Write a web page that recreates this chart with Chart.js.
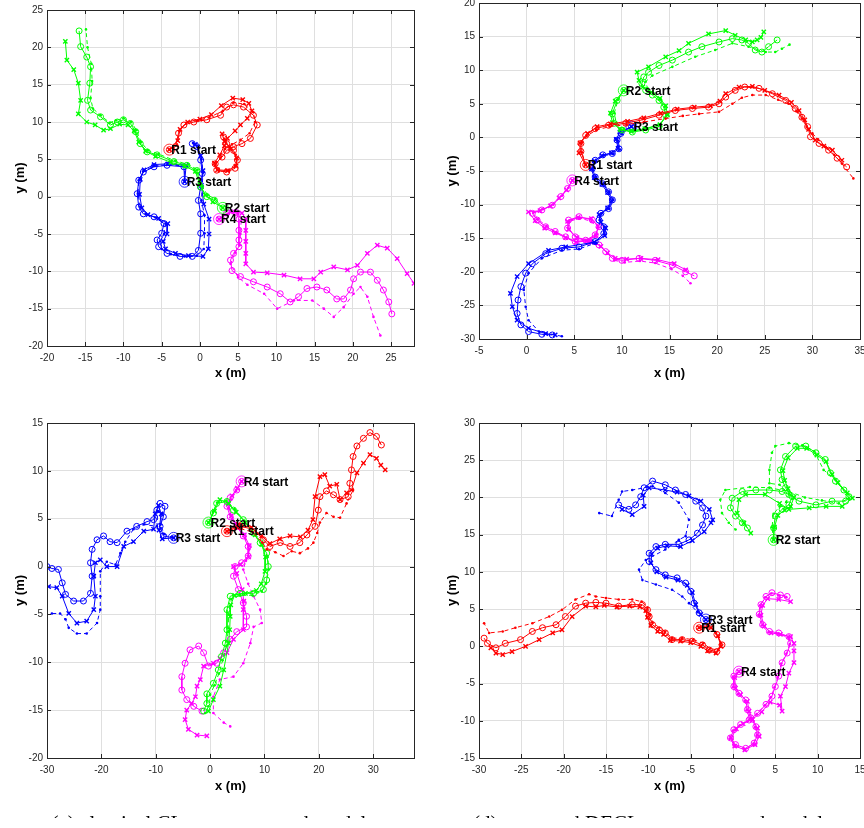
<!DOCTYPE html>
<html>
<head>
<meta charset="utf-8">
<script src="https://cdn.jsdelivr.net/npm/chart.js@4.4.0/dist/chart.umd.min.js"></script>
<style>
html, body { margin: 0; padding: 0; background: #fff; width: 864px; height: 828px; overflow: hidden; position: relative; }
canvas { position: absolute; }
#caps { position: absolute; left: 0; top: 800px; width: 864px; height: 18px; overflow: hidden; }
.cap { position: absolute; top: 13px; font-family: 'Liberation Serif', 'DejaVu Serif', serif; font-size: 21px; line-height: 21px; white-space: nowrap; color: #000; transform: translateX(-50%); }
</style>
</head>
<body>
<canvas id="pa" width="426" height="402" style="left:0px;top:-2px"></canvas>
<canvas id="pb" width="440" height="402" style="left:432px;top:-9px"></canvas>
<canvas id="pc" width="426" height="401" style="left:0px;top:411px"></canvas>
<canvas id="pd" width="440" height="401" style="left:432px;top:411px"></canvas>
<div id="caps">
  <span class="cap" style="left:223px">(c) classical CL, two-step random delays</span>
  <span class="cap" style="left:662px">(d) proposed DECL, two-step random delays</span>
</div>
<script>
// panel (a) - R1..R4, o = circle trace, x = cross trace, d = dashed trace
var aR1o = [[-4,6.3],[-3.2,6.7],[-2.8,8.5],[-2.1,9.6],[-0.8,10],[0.9,10.3],[2.7,10.9],[3.5,12],[4.4,12.3],[5.7,12],[7,10.9],[7.5,9.6],[6.6,7.8],[5.5,7.1],[4.4,6.7],[3.5,6.2],[2.9,5.3],[2,4.4],[2.2,3.55],[3.5,3.3],[4.6,3.8],[4.9,4.9],[4.4,6.2],[3.5,7.1],[3.1,8]];
var aR1x = [[-4,6.3],[-2.9,7.5],[-2.6,9],[-1.6,10],[0,10.4],[1.5,11],[2.8,12.2],[4.3,13.2],[5.6,13],[6.4,12.5],[6.8,11.5],[6.2,10.5],[5.3,9.6],[4.6,8.8],[3.6,7.8],[3.2,6.8],[2.6,5.6],[1.9,4.5],[2.3,3.6],[3.6,3.5],[4.7,4.1],[4.8,5.2],[4,6.4],[3.2,7.4],[2.9,8.4]];
var aR1d = [[-4,6.3],[-3,6.9],[-2.7,8.8],[-1.8,9.9],[-0.3,10.2],[1.2,10.6],[3,11.5],[4.4,12.6],[5.8,12.4],[7,11.3],[7.2,10],[6.5,8.5],[5.3,7.6],[4.2,7],[3.3,6.4],[2.7,5.2],[2,4.2],[2.5,3.4],[3.8,3.4],[4.8,4.3],[4.7,5.6],[3.9,6.7],[3.2,7.7]];
var aR2o = [[3,-1.5],[1.9,-0.5],[0.9,0],[0.1,1.3],[-0.4,3.5],[-1.7,4.2],[-3.4,4.7],[-5.6,5.6],[-6.9,6],[-7.8,7.1],[-8.4,8.7],[-9.1,9.8],[-10,10.3],[-10.8,10],[-11.7,9.6],[-13,10.7],[-14.3,11.6],[-14.7,12.9],[-14.4,15.2],[-14.3,17.4],[-14.8,18.7],[-15.6,20.1],[-15.8,22.2]];
var aR2x = [[3,-1.5],[1.7,-0.7],[0.7,0.2],[0,1.6],[-0.6,3.4],[-2,4.1],[-3.8,4.6],[-5.8,5.4],[-7.1,6.1],[-8,7.3],[-8.6,8.8],[-9.4,9.6],[-10.5,9.7],[-11.7,9.1],[-12.6,8.9],[-13.7,9.6],[-14.8,10],[-15.9,11.1],[-15.6,12.9],[-15.9,15.2],[-16.5,17],[-17.4,18.3],[-17.6,20.8]];
var aR2d = [[3,-1.5],[2,-0.3],[1,0.2],[0.2,1.5],[-0.3,3.6],[-1.5,4.3],[-3.2,4.8],[-5.4,5.7],[-6.8,6.2],[-7.7,7.3],[-8.3,8.9],[-9,10],[-10,10.5],[-11,10.2],[-11.8,9.9],[-13,10.9],[-14,11.8],[-14.3,13.2],[-14.1,15.5],[-14.2,17.8],[-14.7,20],[-14.9,22.4]];
var aR3o = [[-2,2],[-2.1,4],[-4.3,4.2],[-6,4],[-7.4,3.3],[-8,2.2],[-8.2,0.4],[-8,-1.4],[-7.4,-2.3],[-6,-2.7],[-4.7,-3.6],[-5,-4.9],[-5.6,-5.8],[-5.4,-6.7],[-4.3,-7.6],[-2.6,-8],[-1,-8],[-0.2,-7.2],[0.1,-4.9],[0.1,-2.3],[-0.2,-0.5],[0.1,1.3],[0.3,3.1],[0.1,4.9],[-0.4,6.7],[-1,7.1]];
var aR3x = [[-2,2],[-1.8,4.2],[-4.2,4.4],[-6,4.3],[-7.3,3.6],[-7.8,2.3],[-7.9,0.3],[-7.6,-1.5],[-6.8,-2.4],[-5.4,-2.9],[-4.2,-3.6],[-4.3,-5],[-4.8,-6],[-4.5,-7],[-3.2,-7.6],[-1.5,-7.9],[0.4,-8],[1.1,-7],[1.2,-5],[1.2,-3],[0.5,-1],[0.2,1.5],[0.4,3.5],[0.1,5.5],[-0.6,7]];
var aR3d = [[-2,2],[-2,4.1],[-4.2,4.3],[-6,4.1],[-7.4,3.4],[-8,2.2],[-8.1,0.4],[-7.8,-1.4],[-7.1,-2.3],[-5.8,-2.8],[-4.5,-3.6],[-4.7,-5],[-5.2,-6],[-5,-7],[-3.8,-7.7],[-2,-8],[-0.4,-7.9],[0.5,-7],[0.6,-4.9],[0.6,-2.5],[0.2,-0.5],[0.3,1.4],[0.4,3.2],[0.2,5],[-0.3,6.8],[-0.9,7.2]];
var aR4o = [[2.5,-3],[3.5,-2.2],[4.7,-2.1],[5.1,-3],[5.1,-4.5],[5.1,-5.8],[5.1,-6.7],[4.4,-7.6],[4,-8.5],[4.2,-9.9],[5.3,-10.7],[7,-11.4],[8.8,-12.1],[10.5,-13],[11.8,-14.1],[12.9,-13.4],[14,-12.3],[15.3,-12.1],[16.6,-12.5],[17.9,-13.7],[18.8,-13.7],[19.7,-12.5],[20.1,-11],[21,-10.1],[22.3,-10.1],[23.2,-11.2],[24,-12.5],[24.7,-14.1],[25.1,-15.7]];
var aR4x = [[2.5,-3],[4,-2],[5.5,-2.2],[6,-3],[6,-4.5],[6,-6],[6,-7.6],[6,-9],[7,-10.1],[8.8,-10.2],[11,-10.5],[13.1,-11],[14.9,-11],[15.8,-10.1],[17.5,-9.4],[19.3,-9.8],[20.6,-9.2],[21.9,-7.6],[23.2,-6.5],[24.5,-6.9],[25.8,-8.3],[27.1,-10.3],[28,-11.6]];
var aR4d = [[2.5,-3],[3.8,-2.3],[5,-2.3],[5.4,-3.2],[5.3,-5],[5.2,-6.5],[4.6,-7.5],[4,-9],[5,-10.8],[6.2,-11.8],[8.4,-13],[10.1,-15],[12.3,-13.9],[14.7,-13.9],[16.2,-15],[17.5,-16.1],[18.8,-14.8],[20.1,-13],[21,-12.1],[21.9,-13.4],[22.7,-16.1],[23.6,-18.6]];

// panel (b)
var bR1o = [[6.2,-4.1],[5.7,-2.1],[5.7,-0.9],[6.2,0.3],[7.2,1.3],[8.6,1.8],[10.4,2.1],[12.1,2.6],[13.9,3.3],[15.6,4],[17.4,4.3],[19.1,4.5],[20.2,5],[20.9,6],[21.9,7],[22.9,7.5],[24.4,7.3],[25.8,6.5],[27.2,5.5],[28.2,4.3],[28.9,3],[29.5,1.6],[29.8,0.1],[30.7,-0.9],[31.7,-1.9],[32.6,-3.1],[33.6,-4.4]];
var bR1x = [[6.2,-4.1],[5.5,-2.3],[5.6,-0.8],[6.4,0.6],[7.4,1.6],[8.8,2],[10.6,2.4],[12.3,2.9],[14.1,3.6],[15.8,4.2],[17.6,4.5],[19.3,4.7],[20.3,5.4],[20.9,6.5],[22.3,7.5],[23.7,7.6],[25,7],[26.5,6.3],[27.8,5.2],[28.6,4],[29.2,2.6],[29.6,1.2],[30.3,-0.4],[31.2,-1.3],[32.1,-1.9],[33.1,-3.4]];
var bR1d = [[6.2,-4.1],[5.8,-2.2],[5.8,-0.8],[6.3,0.2],[7.3,1.1],[8.7,1.6],[10.5,1.9],[12.3,2.3],[14.6,2.8],[16.4,3.2],[18.1,3.5],[20.2,3.8],[21.6,5],[22.6,5.9],[23.7,6.3],[25.1,6.3],[26.4,5.6],[27.5,5],[28.3,3.9],[28.9,2.8],[29.4,1.6],[30,0.6],[30.6,-0.3],[31.4,-1.4],[32.3,-2.6],[33.1,-3.9],[34.3,-6.1]];
var bR2o = [[10.2,7],[9.5,5.5],[9,3.5],[9.2,2.1],[10,1.1],[11.1,0.8],[12.5,1.1],[13.9,1.6],[14.6,3.3],[14.4,4.5],[13.9,5.5],[13.2,6.3],[12.5,7],[12.1,8],[12.3,9],[12.8,9.7],[13.9,10.7],[15.3,11.5],[17,12.7],[18.4,13.5],[20.2,14.2],[21.6,14.7],[22.6,14.5],[23.3,14],[24,13],[24.7,12.7],[25.4,13.5],[26.3,14.5]];
var bR2x = [[10.2,7],[9.3,5.4],[8.8,3.6],[9,2.2],[9.8,1.2],[11,0.9],[12.4,1.3],[14,1.9],[14.8,3.4],[14.6,4.7],[14,5.8],[13.1,6.7],[12.2,7.5],[11.8,8.5],[11.6,9.7],[12.8,10.5],[14.6,12],[16,12.9],[17,14],[19.1,15.4],[20.9,15.9],[21.9,15.2],[23,14.5],[23.7,14.2],[24.2,14.5],[24.6,14.9],[24.9,15.7]];
var bR2d = [[10.2,7],[9.6,5.6],[9.2,3.6],[9.4,2.2],[10.2,1.3],[11.2,1],[12.6,1.3],[14,1.9],[14.7,3.3],[14.5,4.6],[14,5.6],[13.3,6.5],[12.7,7.3],[12.5,8.3],[13.2,9.2],[15.3,10.5],[17.7,12],[19.8,13],[21.6,14],[23.3,13.5],[25.1,12.7],[26.1,12.7],[26.8,13.2],[27.6,13.8]];
var bR3o = [[11,1.6],[9.9,0.6],[9.5,-0.4],[9.7,-1.7],[9,-2.4],[8,-2.6],[7.2,-3.4],[6.9,-4.6],[7.2,-5.9],[8,-6.9],[8.6,-8.1],[9,-9.3],[8.6,-10.6],[7.8,-11.3],[7.6,-12.3],[8.1,-13.3],[8.1,-14.3],[7.2,-15.5],[5.5,-16.3],[3.7,-16.5],[2,-17.3],[0.6,-18.8],[-0.1,-20.2],[-0.6,-22.2],[-0.9,-24.2],[-1,-26.2],[-0.6,-27.9],[0.2,-28.9],[1.6,-29.3],[2.7,-29.4]];
var bR3x = [[11,1.6],[9.8,0.8],[9.4,-0.3],[9.6,-1.6],[8.9,-2.3],[7.9,-2.7],[7.1,-3.5],[6.8,-4.7],[7.1,-6],[7.9,-7],[8.5,-8.2],[8.9,-9.4],[8.5,-10.5],[7.6,-11.5],[7.8,-12.6],[8.3,-13.5],[8.2,-14.6],[7.1,-15.6],[4.1,-16.3],[2.3,-16.8],[0.2,-18.8],[-1,-20.7],[-1.7,-23.2],[-1.5,-25.2],[-1,-27.2],[0.2,-28.4],[2,-29.2],[3,-29.4]];
var bR3d = [[11,1.6],[10,0.5],[9.6,-0.5],[9.8,-1.8],[9.1,-2.5],[8.1,-2.7],[7.3,-3.5],[7,-4.6],[7.3,-5.9],[8.1,-6.9],[8.7,-8.1],[9.1,-9.3],[8.7,-10.6],[7.9,-11.3],[7.7,-12.3],[8.2,-13.3],[8.2,-14.5],[7.3,-15.7],[5.5,-16.6],[3.7,-16.8],[1.6,-18],[0.2,-20.2],[-0.3,-22.7],[-0.1,-25.2],[0.2,-27.2],[1.3,-28.9],[3.7,-29.6]];
var bR4o = [[4.8,-6.4],[4.3,-7.6],[3.6,-8.8],[2.7,-10.1],[1.6,-10.8],[0.6,-11.3],[1.1,-12.3],[2,-13.3],[3,-14],[4.1,-14.8],[5.1,-15.5],[6.2,-15.3],[7.2,-14.5],[7.6,-13.3],[6.9,-12.3],[5.5,-11.8],[4.4,-12.3],[4.3,-13.5],[5.1,-14.8],[6.5,-15.5],[7.6,-16],[8.3,-17],[9,-18],[10,-18.3],[11.8,-18],[13.5,-18.3],[15.3,-19],[16.7,-20],[17.6,-20.6]];
var bR4x = [[4.8,-6.4],[4.2,-7.8],[3.4,-9],[2.5,-10.2],[1.4,-10.9],[0.2,-11.1],[0.9,-12.4],[1.9,-13.5],[3,-14.2],[4.1,-14.9],[5.2,-15.6],[6.3,-15.4],[7.3,-14.6],[7.5,-13.2],[6.8,-12.1],[5.4,-11.9],[4.3,-12.5],[4.4,-13.7],[5.3,-14.9],[6.7,-15.4],[7.8,-16.2],[8.5,-17.2],[9.3,-18],[10.5,-18.1],[12,-18],[13.8,-18.2],[15.5,-18.8],[16.7,-19.7]];
var bR4d = [[4.8,-6.4],[4.4,-7.5],[3.7,-8.7],[2.8,-10],[1.7,-10.7],[0.7,-11.2],[1.2,-12.2],[2.1,-13.2],[3.1,-14.1],[4.2,-15],[5.2,-15.6],[6.3,-15.4],[7.2,-14.6],[7.5,-13.4],[6.8,-12.5],[5.6,-12],[4.5,-12.5],[4.4,-13.6],[5.3,-14.9],[6.7,-15.7],[7.8,-16.3],[8.5,-17.3],[9.2,-18.3],[10.3,-18.6],[11.9,-18.4],[13.5,-18.7],[15.2,-19.6],[16.4,-20.6],[17.2,-21.7]];

// panel (c) classical CL
var cR1o = [[3.1,3.7],[5.5,4.2],[8,3.9],[9.8,2.8],[11,2.1],[12.9,2.5],[14.7,2.1],[16.5,2.5],[17.8,3.3],[19.3,4.2],[19.9,5.9],[20.2,7.3],[21.4,7.9],[22.7,7.5],[23.9,7],[25.4,7.3],[25.7,8.7],[26,10.1],[26.3,11.5],[27,12.6],[28.2,13.4],[29.4,14],[30.6,13.6],[31.5,12.7]];
var cR1x = [[3.1,3.7],[5.2,4.4],[7.6,4.1],[9.5,3.2],[11,2.4],[12.8,2.9],[14.7,3.2],[16.6,3.1],[18,3.8],[18.9,4.9],[19.3,7.3],[20.2,9.4],[21.1,9.6],[22,8.4],[23.3,8.6],[23.9,7],[25.1,7.7],[26,8],[27,9.8],[28.2,10.8],[29.4,11.7],[30.6,11.3],[31.4,10.6],[32.2,10.1]];
var cR1d = [[3.1,3.7],[5.4,4],[7.8,3.6],[9.6,2.5],[10.4,1.8],[12,1.5],[13.5,1.1],[15,1.6],[16.5,1.4],[18,1.9],[19,2.5],[19.7,3.5],[20.2,4.6],[21.4,5.6],[22.7,5.2],[23.9,5.1],[25.1,6.6],[26.3,8]];
var cR2o = [[-0.3,4.6],[0.6,5.6],[1.2,6.6],[3.1,6.8],[4.3,5.9],[6.1,4.9],[8,3.5],[9.2,2.5],[10.4,1.4],[10.7,0],[10.4,-1.4],[9.8,-2.4],[8,-2.8],[5.5,-2.8],[3.7,-3.1],[3.1,-4.5],[3.1,-6.6],[2.8,-8],[2.1,-9.4],[1.5,-10.8],[0.6,-12.2],[-0.6,-13.3],[-0.6,-14.3],[-1.2,-15.1]];
var cR2x = [[-0.3,4.6],[0.8,5.8],[1.8,7],[3.4,6.6],[4.8,5.7],[6.5,4.6],[8.3,3.3],[9.5,2.3],[10.2,1],[10.1,-0.5],[9.4,-1.8],[8.5,-2.5],[6.5,-2.8],[4.5,-3],[3.8,-4],[3.7,-5.2],[3.6,-6.6],[3.4,-8],[2.5,-10.8],[1.8,-12.5],[0.6,-13.9],[-0.3,-15.1]];
var cR2d = [[-0.3,4.6],[0.5,5.7],[1.3,6.7],[3,6.9],[4.5,6],[6.3,4.8],[8.2,3.3],[9.5,2.2],[10.6,1],[10.8,-0.3],[10.3,-1.8],[9.5,-2.6],[7.8,-3],[5.5,-3],[3.9,-3.4],[3.4,-5],[3.3,-6.8],[3,-8.3],[2.3,-9.8],[1.6,-11.2],[0.8,-12.4],[0,-13.4],[-0.3,-14.6],[-0.9,-15.3]];
var cR3o = [[-6.7,3],[-8.6,3.2],[-9.2,4.2],[-8.6,5.2],[-8.3,6.3],[-9.2,6.6],[-9.8,5.9],[-10.4,4.9],[-11.6,4.7],[-13.5,4.2],[-15.3,3.7],[-17.1,2.5],[-18.4,2.6],[-19.6,3.2],[-20.8,2.8],[-21.7,1.8],[-22,0.4],[-21.7,-1],[-22,-2.8],[-23.3,-3.6],[-25.1,-3.6],[-26.6,-2.9],[-27.2,-1.7],[-27.9,-0.3],[-29.1,-0.2],[-30,0]];
var cR3x = [[-6.7,3],[-8.8,2.9],[-9.4,3.8],[-9,5.5],[-9.5,6.4],[-10.1,5.5],[-10.4,3.9],[-12.2,3.7],[-14.1,2.6],[-15.9,2.1],[-17.1,0],[-19,0],[-20.2,0.7],[-21.1,0.4],[-21.4,-1],[-21.1,-3.1],[-21.4,-4.5],[-22.7,-5.7],[-24.5,-5.9],[-26,-4.9],[-27.2,-3.1],[-28.2,-2.2],[-29.7,-2.1]];
var cR3d = [[-6.7,3],[-8.5,3.4],[-9.1,4.4],[-8.8,5.6],[-9.6,5.8],[-9.8,4.2],[-12.2,4.4],[-14.1,3.9],[-15.6,2.6],[-16.5,1.4],[-17.4,0.2],[-19,0.5],[-20.2,-0.5],[-20.2,-3.1],[-20.2,-4.5],[-20.8,-5.9],[-22.7,-7],[-24.5,-7],[-26,-6.4],[-26.6,-5.5],[-27.6,-4.9],[-29.1,-4.9]];
var cR4o = [[5.8,8.9],[4.9,8],[3.7,7.2],[3.1,6.3],[3.7,5.2],[4.9,4.2],[6.1,3.2],[7,2.1],[7,1.1],[5.8,0.4],[4.6,0],[4.3,-1],[5.2,-2.4],[6.1,-3.8],[6.7,-5.2],[6.7,-6.3],[4.9,-6.8],[3.7,-7.6],[2.5,-9],[1.2,-10.1],[-0.3,-10.4],[-1.2,-9],[-2.1,-8.3],[-3.7,-8.7],[-4.6,-10.1],[-5.2,-11.5],[-5.2,-12.9],[-4.3,-13.9],[-3,-14.6],[-1.5,-15.1]];
var cR4x = [[5.8,8.9],[5,8.2],[4,7.4],[3.3,6.5],[3.9,5.3],[5,4.3],[6.3,3.3],[7.2,2.2],[7.1,1],[5.6,0.2],[4.3,0],[4.9,-0.7],[5.9,-2.4],[6.2,-3.6],[6.1,-4.5],[6.1,-6.6],[4.3,-7.6],[3.1,-9],[1.8,-9.6],[0.6,-10.1],[-1.2,-10.4],[-1.8,-11.8],[-2.4,-12.5],[-2.7,-13.6],[-3.4,-14.3],[-4.3,-15],[-4.6,-16],[-4,-17],[-2.4,-17.6],[-0.6,-17.7]];
var cR4d = [[5.8,8.9],[4.8,7.9],[3.9,7],[3.4,6.1],[4,5],[5.2,4],[6.4,3],[7.2,1.8],[6.6,0.6],[6.1,-0.3],[7,-1.8],[8,-3.1],[9.2,-4.5],[9.5,-5.9],[8,-6.3],[7.4,-8],[6.1,-10.1],[4.3,-11.5],[1.8,-11.8],[0.6,-13.6],[0.6,-15.3],[2.5,-16.3],[3.7,-16.7]];

// panel (d) proposed DECL
var dR1o = [[-4,2.5],[-2.8,2.7],[-1.9,1.6],[-1.3,0.2],[-1.9,-0.7],[-2.8,-0.5],[-3.6,0.2],[-4.8,0.7],[-6,0.9],[-7.2,0.9],[-8,1.8],[-8.7,2.2],[-9.5,2.9],[-9.9,4],[-10.1,4.9],[-10.7,5.6],[-11.9,5.6],[-13.5,5.4],[-15,5.8],[-16.2,5.9],[-17.4,5.8],[-18.6,5.4],[-19.8,4],[-20.9,2.9],[-22.5,2.5],[-23.7,2],[-25.1,0.9],[-26.9,0.4],[-28,-0.2],[-29,0.4],[-29.4,1.1]];
var dR1x = [[-4,2.5],[-2.6,2.5],[-1.8,1.4],[-1.4,0],[-2,-0.9],[-3,-0.6],[-3.8,0],[-5,0.5],[-6.2,0.7],[-7.4,0.8],[-8.2,1.6],[-8.9,2],[-9.7,2.8],[-10.1,3.9],[-10.3,4.8],[-11,5.3],[-12.2,5.4],[-13.7,5.3],[-15.2,5.5],[-16.2,5.3],[-17.4,5.4],[-19,4],[-20.2,2.2],[-21.3,1.8],[-22.9,0.9],[-24.5,0],[-26.1,-0.7],[-27.2,-1.1],[-28,-0.9],[-28.6,-0.2]];
var dR1d = [[-4,2.5],[-2.9,2.9],[-2,1.8],[-1.4,0.4],[-1.8,-0.5],[-2.7,-0.3],[-3.5,0.4],[-4.7,0.9],[-6,1.1],[-7.2,1.1],[-8,2],[-8.7,2.5],[-9.5,3.2],[-9.8,4.3],[-10.1,5.2],[-10.8,6],[-11.9,6.3],[-13.5,6.3],[-15,6.5],[-16.2,6.7],[-17,7],[-18.6,6.3],[-20.2,4.9],[-21.7,4],[-23.7,3.1],[-25.7,2.5],[-27.2,2],[-28.8,1.8],[-29.4,3.1]];
var dR2o = [[4.8,14.3],[4.8,15.9],[5,17.5],[5.8,18.4],[6.6,19],[7,20.1],[6.2,21.3],[5.8,22.4],[5.6,23.7],[6.2,25.5],[7.4,26.9],[8.6,26.9],[9.8,26],[10.9,25.1],[11.5,23.3],[12.1,22.2],[13.1,21],[13.7,20.1],[13.3,19.5],[11.7,19.5],[9.8,19],[7.8,19.5],[6.6,20.4],[5.8,20.8],[4.3,21],[2.7,21],[1.1,20.8],[-0.1,19.9],[-0.3,18.6],[0.3,17.5],[1.1,16.6],[1.7,15.9]];
var dR2x = [[4.8,14.3],[4.9,16],[5.3,17.6],[6.1,18.3],[6.8,18.8],[7.2,20],[6.5,21.2],[6.1,22.3],[5.9,23.6],[6.5,25.3],[7.6,26.6],[8.7,26.6],[9.9,25.7],[11,24.8],[11.7,23.1],[12.4,22],[13.5,20.6],[14.1,19.9],[12.9,18.8],[11,18.8],[9,18.6],[6.6,18.4],[5.5,19.2],[3.8,20.4],[1.5,20.4],[0.7,19.7],[0.5,17.9],[1.3,16.6],[2.1,15.2]];
var dR2d = [[4.8,14.3],[4.6,16],[4.8,17.8],[5.5,18.8],[6.3,19.4],[6.6,20.5],[5.5,21.7],[4.3,21.9],[4.3,23.7],[4.6,26],[5,26.9],[6.6,27.3],[8.2,27],[9.6,26.2],[10.7,23.7],[12.1,22.4],[13.7,19.9],[12.5,19.2],[10.5,19.6],[8.5,20],[6.6,20.8],[4.3,21.3],[2,21.4],[-0.9,21],[-1.5,19.7],[-1.3,17.9],[-0.5,16.6],[0.3,15.7]];
var dR3o = [[-3.2,3.6],[-4,4.5],[-4.6,5.8],[-5,7.4],[-5.6,8.5],[-6.6,9.2],[-8,9.6],[-9.1,10.3],[-9.9,11.4],[-9.9,12.5],[-9.1,13.4],[-8,13.7],[-6.4,13.7],[-5.2,14.3],[-4.2,15.2],[-3.6,16.3],[-3.2,17.5],[-3.6,18.6],[-4.4,19.5],[-5.6,20.4],[-6.8,21],[-8,21.7],[-9.5,22.2],[-10.5,21.3],[-10.9,20.1],[-11.5,19],[-12.3,18.4],[-13.5,19]];
var dR3x = [[-3.2,3.6],[-3.8,4.3],[-4.4,5.6],[-4.8,7.2],[-5.4,8.2],[-6.5,8.9],[-7.9,9.3],[-9,10],[-9.7,11.2],[-9.6,12.4],[-8.9,13.2],[-7.8,13.5],[-6.2,13.4],[-4.8,14.2],[-3.4,15.4],[-2.6,16.6],[-2.4,17],[-2.8,18.4],[-3.8,19.5],[-5.2,20.2],[-6.6,20.7],[-8,21],[-9.9,21.3],[-10.6,20.3],[-10.5,18.8],[-11.9,17.7],[-13.1,18.4]];
var dR3d = [[-3.2,3.6],[-4.2,4.6],[-5.2,5.8],[-6,6.7],[-7.2,7.6],[-9.1,8.3],[-10.7,8.9],[-11.1,10.3],[-10.3,11.6],[-8,13],[-6.4,14.3],[-5.6,14.8],[-5.2,17],[-6.4,19.3],[-8,20.6],[-9.5,21.5],[-11.9,21],[-13.1,20.8],[-13.5,19.7],[-14.3,17.5],[-15.8,17.9]];
var dR4o = [[0.7,-3.4],[0.1,-4],[0.1,-5.4],[0.7,-6.3],[1.5,-7.2],[1.7,-8.5],[2.1,-9.6],[2.7,-10.8],[2.9,-11.9],[2.5,-13],[1.5,-13.7],[0.3,-13.2],[-0.3,-12.3],[0.1,-11.2],[0.9,-10.5],[1.9,-9.9],[2.9,-9],[3.9,-7.8],[4.6,-6.7],[5,-5.4],[5.4,-4],[5.8,-2.2],[6.4,-0.9],[6.8,0.4],[6.6,1.3],[5.4,1.8],[4.3,2],[3.5,2.9],[3.1,4.3],[3.3,5.6],[3.9,6.7],[4.6,7.2],[5.6,6.9],[6.4,6.7]];
var dR4x = [[0.7,-3.4],[0.2,-4.2],[0.3,-5.6],[0.9,-6.5],[1.7,-7.4],[1.9,-8.7],[2.3,-9.8],[2.9,-11],[3.1,-12.1],[2.6,-13.2],[1.4,-13.9],[0.2,-13.4],[-0.2,-12.3],[0.4,-11.1],[1.2,-10.4],[2.3,-9.8],[3.4,-8.8],[4.4,-7.5],[5.5,-7.9],[5.8,-8.7],[5.6,-6.7],[6.2,-5.4],[6.6,-3.6],[7.2,-2.2],[7.2,-0.6],[7.2,0.4],[6.8,1.3],[5.6,1.6],[4.5,1.8],[3.7,2.7],[3.3,4.2],[3.5,5.5],[4.1,6.4],[5.4,6.3],[6.8,6]];
var dR4d = [[0.7,-3.4],[0,-4.1],[0,-5.5],[0.6,-6.4],[1.4,-7.3],[1.6,-8.6],[2,-9.7],[2.6,-10.9],[2.8,-12],[2.4,-13.1],[1.4,-13.8],[0.2,-13.3],[-0.4,-12.4],[0,-11.3],[0.8,-10.6],[1.8,-10],[2.8,-9.1],[3.8,-7.9],[4.5,-6.8],[4.9,-5.5],[5.3,-4.1],[5.7,-2.3],[6.3,-1],[6.7,0.3],[6.5,1.2],[5.3,1.7],[4.2,1.9],[3.4,2.8],[3,4.2],[3.2,5.5],[3.8,6.6],[4.5,7.1],[5.5,6.8],[6.3,6.6]];

var robotNames = ['R1', 'R2', 'R3', 'R4'];
var robotColors = ['#ff0000', '#00ff00', '#0000ff', '#ff00ff'];

var FONT = "'Liberation Sans', Arial, sans-serif";

function pts(arr) {
    return arr.map(function(p) { return { x: p[0], y: p[1] }; });
}

// three estimates per robot plus the bigger start circle
function robotSets(color, circ, cross, dash) {
    return [
        { data: pts(dash), showLine: true, borderColor: color, borderWidth: 1, borderDash: [4, 3],
          pointStyle: 'circle', pointRadius: 1.3, pointBorderWidth: 0, pointBackgroundColor: color },
        { data: pts(cross), showLine: true, borderColor: color, borderWidth: 1,
          pointStyle: 'crossRot', pointRadius: 3, pointBorderWidth: 1.4, pointBorderColor: color },
        { data: pts(circ), showLine: true, borderColor: color, borderWidth: 1,
          pointStyle: 'circle', pointRadius: 3, pointBorderWidth: 1, pointBorderColor: color, pointBackgroundColor: 'rgba(0,0,0,0)' },
        { data: pts([circ[0]]), showLine: false, borderColor: color,
          pointStyle: 'circle', pointRadius: 5.5, pointBorderWidth: 0.8, pointBorderColor: color, pointBackgroundColor: 'rgba(0,0,0,0)' }
    ];
}

// axes box with inward ticks, like matlab "box on"
var framePlugin = {
    id: 'frame',
    afterDraw: function(chart) {
        var ctx = chart.ctx, a = chart.chartArea;
        var xs = chart.scales.x, ys = chart.scales.y;
        ctx.save();
        ctx.strokeStyle = '#262626';
        ctx.lineWidth = 1;
        ctx.strokeRect(Math.round(a.left) + 0.5, Math.round(a.top) + 0.5, Math.round(a.right - a.left), Math.round(a.bottom - a.top));
        ctx.beginPath();
        xs.ticks.forEach(function(t) {
            var px = Math.round(xs.getPixelForValue(t.value)) + 0.5;
            ctx.moveTo(px, a.bottom); ctx.lineTo(px, a.bottom - 4);
            ctx.moveTo(px, a.top); ctx.lineTo(px, a.top + 4);
        });
        ys.ticks.forEach(function(t) {
            var py = Math.round(ys.getPixelForValue(t.value)) + 0.5;
            ctx.moveTo(a.left, py); ctx.lineTo(a.left + 4, py);
            ctx.moveTo(a.right, py); ctx.lineTo(a.right - 4, py);
        });
        ctx.stroke();
        ctx.restore();
    }
};

// "R# start" texts, placed at each robot's first point
var startLabels = {
    id: 'startLabels',
    afterDatasetsDraw: function(chart, args, opts) {
        var ctx = chart.ctx;
        var xs = chart.scales.x, ys = chart.scales.y;
        ctx.save();
        ctx.font = 'bold 12px ' + FONT;
        ctx.fillStyle = '#000';
        ctx.textBaseline = 'middle';
        ctx.textAlign = 'left';
        opts.starts.forEach(function(s, i) {
            ctx.fillText(robotNames[i] + ' start', xs.getPixelForValue(s[0]) + 2, ys.getPixelForValue(s[1]) + 1);
        });
        ctx.restore();
    }
};

function makePanel(id, robots, xMin, xMax, xStep, yMin, yMax, xTitleGap) {
    var datasets = [];
    robots.forEach(function(r, i) {
        datasets = datasets.concat(robotSets(robotColors[i], r[0], r[1], r[2]));
    });
    var tickFont = { family: FONT, size: 10 };
    var titleFont = { family: FONT, size: 13, weight: 'bold' };
    return new Chart(document.getElementById(id), {
        type: 'scatter',
        data: { datasets: datasets },
        options: {
            responsive: false,
            animation: false,
            events: [],
            layout: { padding: { left: 0, top: 12, right: 12, bottom: 0 } },
            elements: { line: { tension: 0, fill: false } },
            scales: {
                x: {
                    type: 'linear', min: xMin, max: xMax,
                    ticks: { stepSize: xStep, includeBounds: false, padding: 6, color: '#262626', font: tickFont, maxRotation: 0, autoSkip: false },
                    grid: { color: '#dfdfdf', drawTicks: false },
                    border: { display: false },
                    title: { display: true, text: 'x (m)', color: '#000', font: titleFont, padding: { top: 0, bottom: 54 - xTitleGap - 7.8 } },
                    afterFit: function(s) { s.height = 54; }
                },
                y: {
                    type: 'linear', min: yMin, max: yMax,
                    ticks: { stepSize: 5, includeBounds: false, padding: 4, color: '#262626', font: tickFont, autoSkip: false },
                    grid: { color: '#dfdfdf', drawTicks: false },
                    border: { display: false },
                    title: { display: true, text: 'y (m)', color: '#000', font: titleFont, padding: { top: 12.5, bottom: 0 } },
                    afterFit: function(s) { s.width = 47; }
                }
            },
            plugins: {
                legend: { display: false },
                tooltip: { enabled: false },
                startLabels: { starts: robots.map(function(r) { return r[0][0]; }) }
            }
        },
        plugins: [framePlugin, startLabels]
    });
}

makePanel('pa', [[aR1o, aR1x, aR1d], [aR2o, aR2x, aR2d], [aR3o, aR3x, aR3d], [aR4o, aR4x, aR4d]], -20, 28, 5, -20, 25, 27);
makePanel('pb', [[bR1o, bR1x, bR1d], [bR2o, bR2x, bR2d], [bR3o, bR3x, bR3d], [bR4o, bR4x, bR4d]], -5, 35, 5, -30, 20, 34);
makePanel('pc', [[cR1o, cR1x, cR1d], [cR2o, cR2x, cR2d], [cR3o, cR3x, cR3d], [cR4o, cR4x, cR4d]], -30, 37.5, 10, -20, 15, 28.5);
makePanel('pd', [[dR1o, dR1x, dR1d], [dR2o, dR2x, dR2d], [dR3o, dR3x, dR3d], [dR4o, dR4x, dR4d]], -30, 15, 5, -15, 30, 28.5);
</script>
</body>
</html>
